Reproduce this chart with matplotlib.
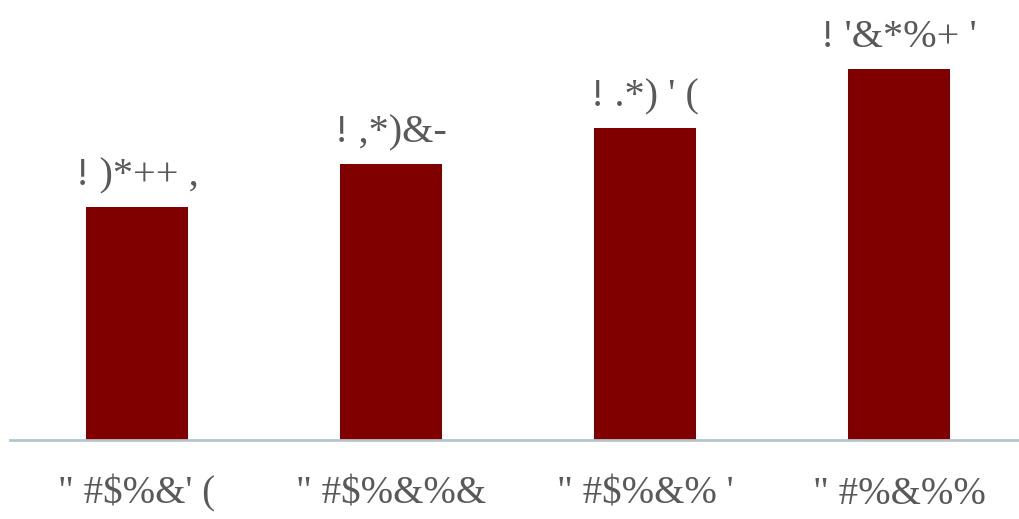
import matplotlib
matplotlib.use("Agg")
import matplotlib.pyplot as plt

categories = ['" #$%&\' (', '" #$%&%&', '" #$%&% \'', '" #%&%%']
values = [233, 276, 312, 371]
value_labels = ["! )*++ ,", "! ,*)&-", "! .*) ' (", "! '&*%+ '"]

W, H = 1020, 519
fig = plt.figure(figsize=(W / 100, H / 100), dpi=100)
ax = fig.add_axes([10 / W, (H - 440) / H, 1 - 10 / W, 440 / H])

bar_color = "#800000"
text_color = "#595959"
ax.bar(range(len(categories)), values, width=0.4, color=bar_color, zorder=2)

ax.set_xlim(-0.5, -0.5 + 1010 / 254)
ax.set_ylim(0, 440)

for s in ["top", "right", "left"]:
    ax.spines[s].set_visible(False)
ax.spines["bottom"].set_color("#b4c4cc")
ax.spines["bottom"].set_linewidth(2)
ax.set_yticks([])
ax.set_xticks(range(len(categories)))
ax.set_xticklabels(categories, fontfamily="Liberation Serif", fontsize=28,
                   color=text_color, va="baseline")
ax.tick_params(axis="x", length=0, pad=46)

for i, (v, lab) in enumerate(zip(values, value_labels)):
    ax.annotate(lab, (i, v), xytext=(0, 15.5), textcoords="offset points",
                ha="center", va="baseline", fontfamily="Liberation Serif",
                fontsize=29, color=text_color)

fig.savefig("out.png", dpi=100)
